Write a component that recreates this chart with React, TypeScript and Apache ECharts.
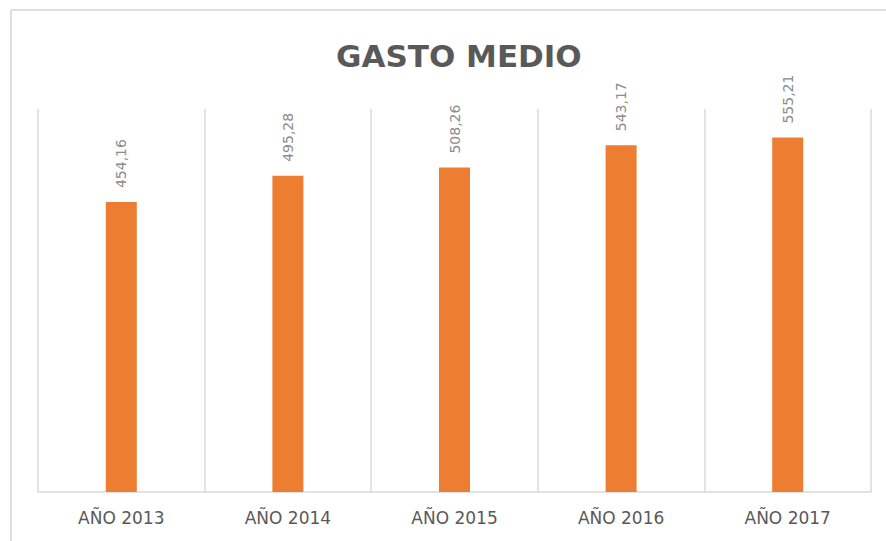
import React, { useEffect, useRef } from "react";
import * as echarts from "echarts";

const categories = ["AÑO 2013", "AÑO 2014", "AÑO 2015", "AÑO 2016", "AÑO 2017"];
const values = [454.16, 495.28, 508.26, 543.17, 555.21];

export default function App() {
  const ref = useRef<HTMLDivElement>(null);
  useEffect(() => {
    if (!ref.current) return;
    const chart = echarts.init(ref.current, null, { renderer: "svg" });
    chart.setOption({
      animation: false,
      backgroundColor: "#ffffff",
      title: {
        text: "GASTO MEDIO",
        left: 331,
        top: 35,
        textStyle: {
          fontFamily: "DejaVu Sans",
          fontWeight: "bold",
          fontSize: 31,
          color: "#595959",
        },
      },
      graphic: [
        {
          type: "rect",
          shape: { x: 11, y: 10, width: 900, height: 600 },
          style: { fill: "none", stroke: "#d6d6d6", lineWidth: 1.5 },
          silent: true,
          z: -1,
        },
      ],
      grid: { left: 38, right: 15, top: 109, bottom: 49 },
      xAxis: {
        type: "category",
        data: categories,
        axisLine: { show: true, lineStyle: { color: "#d9d9d9", width: 1.5 } },
        axisTick: { show: false },
        splitLine: { show: true, lineStyle: { color: "#d9d9d9", width: 1.5 } },
        axisLabel: {
          margin: 17,
          fontFamily: "DejaVu Sans",
          fontSize: 17,
          color: "#595959",
        },
      },
      yAxis: {
        type: "value",
        min: 0,
        max: 600,
        show: false,
        splitLine: { show: false },
      },
      series: [
        {
          type: "bar",
          data: values,
          barWidth: 31,
          itemStyle: { color: "#ED7D31" },
          label: {
            show: true,
            position: "top",
            rotate: 90,
            align: "left",
            verticalAlign: "middle",
            distance: 14,
            fontFamily: "DejaVu Sans",
            fontSize: 14,
            color: "#8c8c8c",
            formatter: (p: any) => p.value.toFixed(2).replace(".", ","),
          },
        },
      ],
    });
    return () => chart.dispose();
  }, []);
  return (
    <div
      ref={ref}
      style={{ position: "fixed", left: 0, top: 0, width: 886, height: 541 }}
    />
  );
}
